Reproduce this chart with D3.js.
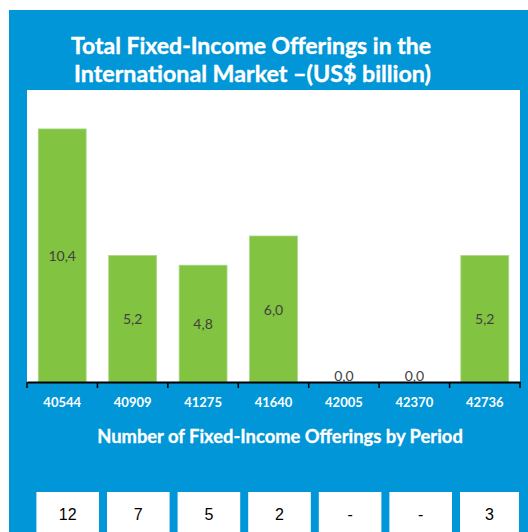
<!DOCTYPE html>
<html><head><meta charset="utf-8">
<script src="https://cdn.jsdelivr.net/npm/d3@7"></script>
<style>html,body{margin:0;padding:0;background:#fff;}svg{display:block;}</style>
</head><body>
<script>
const categories = ["40544","40909","41275","41640","42005","42370","42736"];
const values = [10.4, 5.2, 4.8, 6.0, 0.0, 0.0, 5.2];
const counts = ["12","7","5","2","-","-","3"];
const titleLines = ["Total Fixed-Income Offerings in the","International Market \u2013(US$ billion)"];
const subtitle = "Number of Fixed-Income Offerings by Period";

const W = 528, H = 532;
const svg = d3.select("body").append("svg").attr("width", W).attr("height", H);
const BLUE = "#0096d7", GREEN = "#82c341";

svg.append("rect").attr("x", 9).attr("y", 10).attr("width", W - 9).attr("height", H - 10).attr("fill", BLUE);

const plot = {left: 27, right: 520, top: 90, bottom: 382};
svg.append("rect").attr("x", plot.left).attr("y", plot.top)
  .attr("width", plot.right - plot.left).attr("height", plot.bottom - plot.top).attr("fill", "#fff");

const x = d3.scaleBand().domain(categories).range([plot.left, plot.right]).paddingInner(0.32).paddingOuter(0.16);
const y = d3.scaleLinear().domain([0, 12]).range([plot.bottom, plot.top]);

function fitText(sel, target) {
  const n = sel.node();
  const fs = parseFloat(sel.attr("font-size"));
  const w = n.getComputedTextLength();
  sel.attr("font-size", (fs * target / w).toFixed(2));
}

// Title
const tl = [{t: titleLines[0], y: 54, w: 360, cx: 251}, {t: titleLines[1], y: 82, w: 357, cx: 252.5}];
tl.forEach(d => {
  const s = svg.append("text").attr("x", d.cx).attr("y", d.y).attr("text-anchor", "middle")
    .attr("font-family", "Lato, sans-serif").attr("font-weight", "bold").attr("font-size", 22)
    .attr("fill", "#fff").attr("stroke", "#fff").attr("stroke-width", 0.4).text(d.t);
  fitText(s, d.w);
});

// Bars
svg.append("g").selectAll("rect").data(values).join("rect")
  .attr("x", (d, i) => x(categories[i])).attr("width", x.bandwidth())
  .attr("y", d => y(d)).attr("height", d => y(0) - y(d))
  .attr("fill", GREEN).attr("stroke", "#a9d889").attr("stroke-width", 0.8);

const fmt = v => d3.format(".1f")(v).replace(".", ",");
svg.append("g").selectAll("text").data(values).join("text")
  .attr("x", (d, i) => x(categories[i]) + x.bandwidth() / 2)
  .attr("y", d => d === 0 ? y(0) - 5 : (y(d) + y(0)) / 2 + 2)
  .attr("text-anchor", "middle").attr("dominant-baseline", "middle")
  .attr("font-family", "Lato, sans-serif").attr("font-size", 14).attr("fill", "#404040")
  .text(d => fmt(d));

// Axis
const xb = d3.scaleBand().domain(categories).range([plot.left, plot.right]);
const ax = svg.append("g").attr("transform", `translate(0,${plot.bottom})`)
  .call(d3.axisBottom(xb).tickSize(0).tickSizeOuter(0).tickPadding(16));
ax.select(".domain").attr("stroke", "#000").attr("stroke-width", 2);
ax.selectAll(".tick text").attr("fill", "#fff").attr("font-family", "Lato, sans-serif")
  .attr("font-weight", "bold").attr("font-size", 13);
const bounds = categories.map(c => xb(c)).concat([plot.right]);
svg.append("g").selectAll("line").data(bounds).join("line")
  .attr("x1", d => d).attr("x2", d => d).attr("y1", plot.bottom).attr("y2", plot.bottom + 6)
  .attr("stroke", "#000").attr("stroke-width", 1.5);

// Subtitle
const st = svg.append("text").attr("x", 280).attr("y", 443).attr("text-anchor", "middle")
  .attr("font-family", "Lato, sans-serif").attr("font-weight", "bold").attr("font-size", 16)
  .attr("fill", "#fff").attr("stroke", "#fff").attr("stroke-width", 0.3).text(subtitle);
fitText(st, 366);

// Count boxes
const step = 70.6, pad = 8;
const bx = d3.scaleBand().domain(categories).range([36.4, 36.4 + step * 7 - pad]).paddingInner(pad / step).paddingOuter(0);
const bw = (i) => Math.min(bx.bandwidth(), 519 - bx(categories[i]));
const g = svg.append("g");
g.selectAll("rect").data(counts).join("rect")
  .attr("x", (d, i) => bx(categories[i]))
  .attr("width", (d, i) => bw(i))
  .attr("y", 492).attr("height", H - 492).attr("fill", "#fff");
g.selectAll("text").data(counts).join("text")
  .attr("x", (d, i) => bx(categories[i]) + bw(i) / 2)
  .attr("y", 520).attr("text-anchor", "middle")
  .attr("font-family", "Liberation Sans, Arial, sans-serif").attr("font-size", 16).attr("fill", "#000")
  .text(d => d);
</script>
</body></html>
